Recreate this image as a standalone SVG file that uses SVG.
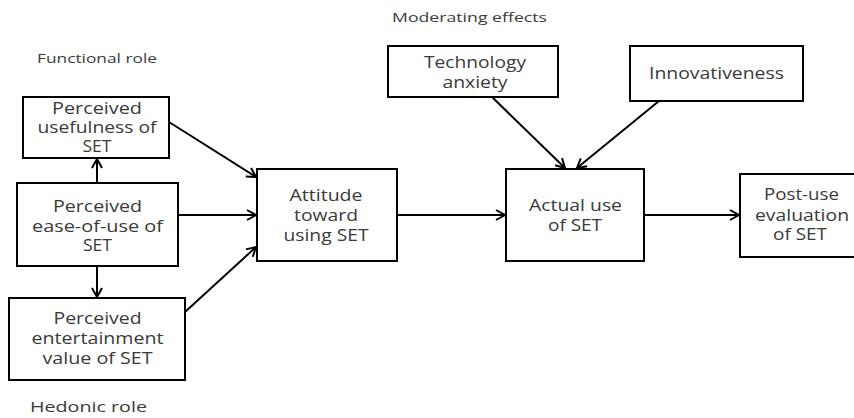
<svg xmlns="http://www.w3.org/2000/svg" width="854" height="418" viewBox="0 0 854 418">
<style>
.box{fill:#fff;stroke:#000;stroke-width:2}
.t{font-family:"Open Sans","Liberation Sans",sans-serif;font-size:16px;fill:#3a3a3a;text-anchor:middle}
.lab{font-family:"Open Sans","Liberation Sans",sans-serif;fill:#3a3a3a}
.c{stroke:#000;stroke-width:2;fill:none;marker-end:url(#ah)}
</style>
<defs>
<marker id="ah" markerUnits="userSpaceOnUse" markerWidth="12" markerHeight="12" refX="10" refY="6" orient="auto" viewBox="0 0 12 12">
<path d="M1,1 L10,6 L1,11" fill="none" stroke="#000" stroke-width="2"/>
</marker>
</defs>
<rect width="854" height="418" fill="#fff"/>
<text class="lab" x="392" y="22" font-size="12.5" textLength="155" lengthAdjust="spacingAndGlyphs">Moderating effects</text>
<text class="lab" x="37" y="63" font-size="12" textLength="120" lengthAdjust="spacingAndGlyphs">Functional role</text>
<text class="lab" x="30" y="412" font-size="15" textLength="117" lengthAdjust="spacingAndGlyphs">Hedonic role</text>
<g id="connectors">
<line class="c" x1="97" y1="183" x2="97" y2="159"/>
<line class="c" x1="97" y1="266" x2="97" y2="297"/>
<line class="c" x1="169" y1="122" x2="256" y2="177"/>
<line class="c" x1="178" y1="215" x2="256" y2="215"/>
<line class="c" x1="185" y1="312" x2="256" y2="247"/>
<line class="c" x1="397" y1="215" x2="505" y2="215"/>
<line class="c" x1="492" y1="97" x2="565" y2="168"/>
<line class="c" x1="659" y1="101" x2="577" y2="168"/>
<line class="c" x1="644" y1="215" x2="739" y2="215"/>
</g>
<g id="usefulness">
<rect class="box" x="23" y="97" width="146" height="61"/>
<text class="t" x="97" y="114" textLength="90" lengthAdjust="spacingAndGlyphs">Perceived</text>
<text class="t" x="97" y="133" textLength="119" lengthAdjust="spacingAndGlyphs">usefulness of</text>
<text class="t" x="97" y="152" textLength="29" lengthAdjust="spacingAndGlyphs">SET</text>
</g>
<g id="ease">
<rect class="box" x="17" y="183" width="161" height="83"/>
<text class="t" x="97.5" y="212" textLength="89" lengthAdjust="spacingAndGlyphs">Perceived</text>
<text class="t" x="97.5" y="232" textLength="131" lengthAdjust="spacingAndGlyphs">ease-of-use of</text>
<text class="t" x="97.5" y="251" textLength="29" lengthAdjust="spacingAndGlyphs">SET</text>
</g>
<g id="entertainment">
<rect class="box" x="9" y="298" width="176" height="82"/>
<text class="t" x="97.5" y="324" textLength="88" lengthAdjust="spacingAndGlyphs">Perceived</text>
<text class="t" x="97.5" y="344" textLength="132" lengthAdjust="spacingAndGlyphs">entertainment</text>
<text class="t" x="97.5" y="364" textLength="110" lengthAdjust="spacingAndGlyphs">value of SET</text>
</g>
<g id="attitude">
<rect class="box" x="257" y="169" width="140" height="92"/>
<text class="t" x="326" y="201" textLength="73" lengthAdjust="spacingAndGlyphs">Attitude</text>
<text class="t" x="326" y="221" textLength="64" lengthAdjust="spacingAndGlyphs">toward</text>
<text class="t" x="326" y="241" textLength="85" lengthAdjust="spacingAndGlyphs">using SET</text>
</g>
<g id="technology">
<rect class="box" x="388" y="46" width="170" height="51"/>
<text class="t" x="475" y="68" textLength="102" lengthAdjust="spacingAndGlyphs">Technology</text>
<text class="t" x="475" y="88" textLength="65" lengthAdjust="spacingAndGlyphs">anxiety</text>
</g>
<g id="innovativeness">
<rect class="box" x="630" y="46" width="173" height="55"/>
<text class="t" x="716.5" y="79" textLength="135" lengthAdjust="spacingAndGlyphs">Innovativeness</text>
</g>
<g id="actual">
<rect class="box" x="506" y="169" width="138" height="92"/>
<text class="t" x="575.5" y="211" textLength="93" lengthAdjust="spacingAndGlyphs">Actual use</text>
<text class="t" x="575" y="231" textLength="54" lengthAdjust="spacingAndGlyphs">of SET</text>
</g>
<g id="postuse">
<rect class="box" x="740" y="174" width="130" height="83"/>
<text class="t" x="801.5" y="200" textLength="75" lengthAdjust="spacingAndGlyphs">Post-use</text>
<text class="t" x="802" y="221" textLength="94" lengthAdjust="spacingAndGlyphs">evaluation</text>
<text class="t" x="800" y="240" textLength="54" lengthAdjust="spacingAndGlyphs">of SET</text>
</g>
</svg>
